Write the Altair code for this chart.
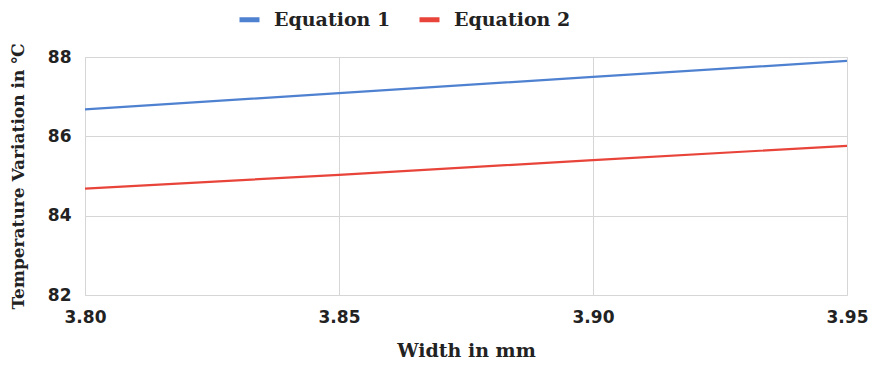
import altair as alt
import pandas as pd

widths = [3.80, 3.85, 3.90, 3.95]
eq1 = [86.68, 87.09, 87.50, 87.90]
eq2 = [84.68, 85.03, 85.40, 85.76]
series = ["Equation 1", "Equation 2"]
colors = ["#4f81d1", "#e8443a"]
x_ticks = [3.80, 3.85, 3.90, 3.95]
y_ticks = [82, 84, 86, 88]

rows = []
for w, v in zip(widths, eq1):
    rows.append({"Width": w, "Temp": v, "Series": series[0]})
for w, v in zip(widths, eq2):
    rows.append({"Width": w, "Temp": v, "Series": series[1]})
df = pd.DataFrame(rows)

chart = alt.Chart(df).mark_line(strokeWidth=2.2).encode(
    x=alt.X("Width:Q", scale=alt.Scale(domain=[3.80, 3.95], nice=False, zero=False),
            axis=alt.Axis(values=x_ticks, format=".2f", title="Width in mm",
                          labelFont="DejaVu Sans", labelFontWeight="bold", labelFontSize=17,
                          labelColor="#222", labelPadding=14,
                          titleFont="DejaVu Serif", titleFontWeight="bold", titleFontSize=19,
                          titleColor="#222", titlePadding=16,
                          domain=False, ticks=False, grid=True, gridColor="#d6d6d6",
                          labelFlush=False)),
    y=alt.Y("Temp:Q", scale=alt.Scale(domain=[82, 88], nice=False, zero=False),
            axis=alt.Axis(values=y_ticks, format="d", title="Temperature Variation in ℃",
                          labelFont="DejaVu Sans", labelFontWeight="bold", labelFontSize=17,
                          labelColor="#222", labelPadding=14,
                          titleFont="DejaVu Serif", titleFontWeight="bold", titleFontSize=17,
                          titleColor="#222", titlePadding=20,
                          domain=False, ticks=False, grid=True, gridColor="#d6d6d6")),
    color=alt.Color("Series:N", scale=alt.Scale(domain=series, range=colors),
                    legend=alt.Legend(title=None, orient="none", direction="horizontal",
                                      legendX=152, legendY=-50,
                                      symbolType="stroke", symbolSize=400, symbolStrokeWidth=5,
                                      labelFont="DejaVu Serif", labelFontWeight="bold",
                                      labelFontSize=19, labelColor="#222", columnPadding=18,
                                      labelOffset=12)),
).properties(
    width=762, height=238,
    autosize=alt.AutoSizeParams(type="none"),
    padding={"left": 77, "top": 49, "right": 23, "bottom": 65},
).configure_view(stroke="#d6d6d6")

chart.save("out.html", embed_options={"renderer": "svg", "actions": False})
